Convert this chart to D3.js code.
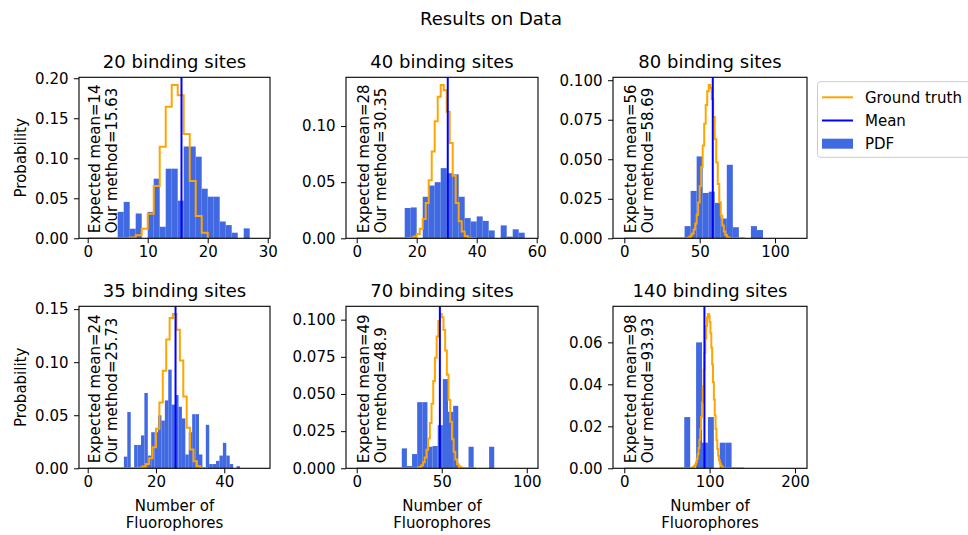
<!DOCTYPE html>
<html><head><meta charset="utf-8">
<script src="https://cdn.jsdelivr.net/npm/d3@7"></script>
<style>
body{margin:0;background:#fff;}
svg text{font-family:"DejaVu Sans",sans-serif;fill:#000;}
</style>
</head><body>
<svg id="c" width="968" height="535"></svg>
<script>
// ---------- data ----------
const sites = [20, 40, 80, 35, 70, 140];
const expectedMeans = [14, 28, 56, 24, 49, 98];
const methodMeans = [15.63, 30.35, 58.69, 25.73, 48.9, 93.93];

// PDF histogram bars (first bin edge, bin width, heights)
const pdfStart = [5, 16, 40, 10.6, 26.5, 70.3];
const pdfWidth = [1, 2, 4, 1, 3.02, 6.93];
const pdf20 = [0.033, 0.0455, 0.012, 0.031, 0, 0.033, 0.0745, 0.0144, 0.087, 0.087, 0.047, 0.1147, 0.1147, 0.102, 0.062, 0.052, 0.052, 0.021, 0.0165, 0.007, 0, 0.0124];
const pdf40 = [0.027, 0.0275, 0, 0.037, 0.047, 0.050, 0.0625, 0.058, 0.057, 0.037, 0.018, 0.015, 0.0195, 0.0155, 0.007, 0, 0.0115, 0.0015, 0.008, 0.005];
const pdf80 = [0.0077, 0.030, 0.0518, 0.0287, 0.0295, 0.0224, 0.0125, 0.0465, 0.0070, 0, 0, 0.0077, 0.0052];
const pdf35 = [0.011, 0.053, 0, 0.022, 0.022, 0.031, 0.071, 0.012, 0.034, 0.034, 0.050, 0.045, 0.064, 0.093, 0.060, 0.069, 0.058, 0.047, 0.013, 0.034, 0.051, 0.051, 0.013, 0, 0.041, 0.004, 0.004, 0.007, 0.012, 0.024, 0.012, 0.004, 0, 0.002];
const pdf70 = [0.0134, 0.0015, 0.0096, 0.0445, 0.0445, 0.0145, 0.015, 0.029, 0.060, 0.038, 0.042, 0, 0, 0.0145, 0, 0, 0, 0.0145];
const pdf140 = [0.0244, 0, 0.060, 0.0122, 0.0244, 0, 0.0122, 0.0122];

// Ground truth step values (first k shown, then one value per unit bin)
const gtStart = [6, 17, 42, 14, 36, 80];
const gt20 = [0.0002, 0.001, 0.0039, 0.012, 0.0308, 0.0654, 0.1144, 0.1643, 0.1916, 0.1789, 0.1304, 0.0716, 0.0278, 0.0068];
const gt40 = [0.0002, 0.0006, 0.0016, 0.0038, 0.0085, 0.0172, 0.0314, 0.0518, 0.0774, 0.1042, 0.1261, 0.1366, 0.1319, 0.1128, 0.0849, 0.0557, 0.0315, 0.0151, 0.0061, 0.002, 0.0005, 0.0001];
const gt80 = [0.0004, 0.0009, 0.0017, 0.0031, 0.0055, 0.0093, 0.0149, 0.0227, 0.0329, 0.0451, 0.0587, 0.0724, 0.0844, 0.0931, 0.0970, 0.0953, 0.0882, 0.0767, 0.0627, 0.0479, 0.0343, 0.0228, 0.0142, 0.0081, 0.0043, 0.0021, 0.0009, 0.0004];
const gt35 = [0.0002, 0.0005, 0.0016, 0.0041, 0.0095, 0.0199, 0.0372, 0.0620, 0.0920, 0.1214, 0.1416, 0.1454, 0.1305, 0.1015, 0.0677, 0.0381, 0.0178, 0.0067, 0.0020, 0.0004, 0.0001];
const gt70 = [0.0005, 0.0010, 0.0021, 0.0040, 0.0073, 0.0124, 0.0200, 0.0304, 0.0435, 0.0587, 0.0744, 0.0886, 0.0991, 0.1038, 0.1017, 0.0931, 0.0793, 0.0629, 0.0462, 0.0313, 0.0196, 0.0112, 0.0059, 0.0028, 0.0012, 0.0005];
const gt140 = [0.0004, 0.0007, 0.0011, 0.0018, 0.0029, 0.0045, 0.0067, 0.0097, 0.0136, 0.0186, 0.0245, 0.0314, 0.0391, 0.0471, 0.0549, 0.0620, 0.0678, 0.0718, 0.0735, 0.0728, 0.0696, 0.0643, 0.0574, 0.0494, 0.0410, 0.0328, 0.0253, 0.0187, 0.0134, 0.0092, 0.0060, 0.0038, 0.0023, 0.0013, 0.0007, 0.0004];

// axes ranges and ticks
const xDomains = [[-1.45, 30.38], [-3.57, 60.43], [-7.5, 121.2], [-2.55, 53.4], [-6.3, 106.6], [-13.2, 214.1]];
const xTicks = [[0, 10, 20, 30], [0, 20, 40, 60], [0, 50, 100], [0, 20, 40], [0, 50, 100], [0, 100, 200]];
const yTicks = [[0, 0.05, 0.10, 0.15, 0.20], [0, 0.05, 0.10], [0, 0.025, 0.05, 0.075, 0.1], [0, 0.05, 0.10, 0.15], [0, 0.025, 0.05, 0.075, 0.1], [0, 0.02, 0.04, 0.06]];
const yTickFormats = [".2f", ".2f", ".3f", ".2f", ".3f", ".2f"];
const legendLabels = ["Ground truth", "Mean", "PDF"];

const pdfs = [pdf20, pdf40, pdf80, pdf35, pdf70, pdf140];
const gts = [gt20, gt40, gt80, gt35, gt70, gt140];

// ---------- layout ----------
const colLeft = [79, 346, 613], colRight = [270, 538, 807];
const rowTop = [77.3, 306.3], rowBottom = [238.3, 468.3];
const C_BAR = "#4169e1", C_GT = "#ffa500", C_MEAN = "#0000ff";

const svg = d3.select("#c");
svg.append("text").attr("x", 491).attr("y", 25).attr("text-anchor", "middle")
  .style("font-size", "18px").text("Results on Data");

for (let i = 0; i < 6; i++) {
  const r = Math.floor(i / 3), c = i % 3;
  const L = colLeft[c], R = colRight[c], T = rowTop[r], B = rowBottom[r];
  const x = d3.scaleLinear().domain(xDomains[i]).range([L, R]);
  const gtVals = gts[i];
  const yMax = d3.max([d3.max(gtVals), d3.max(pdfs[i])]) * 1.05;
  const y = d3.scaleLinear().domain([0, yMax]).range([B, T]);
  const g = svg.append("g");
  const cid = "clip" + i;
  g.append("clipPath").attr("id", cid).append("rect")
    .attr("x", L).attr("y", T).attr("width", R - L).attr("height", B - T);
  const plot = g.append("g").attr("clip-path", `url(#${cid})`);

  // bars
  const bars = pdfs[i].map((v, k) => ({x0: pdfStart[i] + k * pdfWidth[i], x1: pdfStart[i] + (k + 1) * pdfWidth[i], v}))
    .filter(d => d.v > 0);
  plot.selectAll("rect.bar").data(bars).join("rect").attr("class", "bar")
    .attr("x", d => x(d.x0)).attr("width", d => x(d.x1) - x(d.x0))
    .attr("y", d => y(d.v)).attr("height", d => y(0) - y(d.v))
    .attr("fill", C_BAR);

  // ground truth step
  const n = sites[i];
  const pts = [[0, 0]];
  for (let k = 0; k < n; k++) {
    const idx = k - gtStart[i];
    const v = (idx >= 0 && idx < gtVals.length) ? gtVals[idx] : 0;
    pts.push([k, v]); pts.push([k + 1, v]);
  }
  pts.push([n, 0]);
  plot.append("path").attr("d", d3.line().x(d => x(d[0])).y(d => y(d[1]))(pts))
    .attr("fill", "none").attr("stroke", C_GT).attr("stroke-width", 2);

  // mean line
  plot.append("line").attr("x1", x(methodMeans[i])).attr("x2", x(methodMeans[i]))
    .attr("y1", T).attr("y2", B).attr("stroke", C_MEAN).attr("stroke-width", 2);

  // annotation
  const x0 = x(0);
  [`Expected mean=${expectedMeans[i]}`, `Our method=${methodMeans[i]}`].forEach((s, j) => {
    g.append("text").attr("transform", `translate(${x0 + 12 + j * 17},${B - 5}) rotate(-90)`)
      .style("font-size", "15px").text(s);
  });

  // axes
  const ax = g.append("g").attr("transform", `translate(0,${B})`)
    .call(d3.axisBottom(x).tickValues(xTicks[i]).tickFormat(d3.format("d")).tickSize(5).tickPadding(3));
  const ay = g.append("g").attr("transform", `translate(${L},0)`)
    .call(d3.axisLeft(y).tickValues(yTicks[i]).tickFormat(d3.format(yTickFormats[i])).tickSize(5).tickPadding(5.5));
  [ax, ay].forEach(a => {
    a.select(".domain").remove();
    a.selectAll("text").style("font-size", "15px").style("font-family", '"DejaVu Sans",sans-serif').attr("fill", "#000");
    a.selectAll("line").attr("stroke", "#000").attr("stroke-width", 1);
  });
  g.append("rect").attr("x", L).attr("y", T).attr("width", R - L).attr("height", B - T)
    .attr("fill", "none").attr("stroke", "#000").attr("stroke-width", 1.1);

  // title
  g.append("text").attr("x", (L + R) / 2).attr("y", T - 9).attr("text-anchor", "middle")
    .style("font-size", "18px").text(`${sites[i]} binding sites`);

  if (c === 0) {
    g.append("text").attr("transform", `translate(26,${(T + B) / 2}) rotate(-90)`)
      .attr("text-anchor", "middle").style("font-size", "15px").text("Probability");
  }
  if (r === 1) {
    g.append("text").attr("x", (L + R) / 2).attr("y", 511).attr("text-anchor", "middle")
      .style("font-size", "15px").text("Number of");
    g.append("text").attr("x", (L + R) / 2).attr("y", 528).attr("text-anchor", "middle")
      .style("font-size", "15px").text("Fluorophores");
  }
}

// legend
const lg = svg.append("g");
lg.append("rect").attr("x", 817.5).attr("y", 81.7).attr("width", 170).attr("height", 75.6)
  .attr("rx", 3).attr("fill", "#fff").attr("stroke", "#cccccc").attr("stroke-width", 1);
const ly = [97.3, 120.5, 143.7];
lg.append("line").attr("x1", 822).attr("x2", 853).attr("y1", ly[0]).attr("y2", ly[0]).attr("stroke", C_GT).attr("stroke-width", 2);
lg.append("line").attr("x1", 822).attr("x2", 853).attr("y1", ly[1]).attr("y2", ly[1]).attr("stroke", C_MEAN).attr("stroke-width", 2);
lg.append("rect").attr("x", 822).attr("y", ly[2] - 5).attr("width", 31).attr("height", 10).attr("fill", C_BAR);
legendLabels.forEach((s, j) => {
  lg.append("text").attr("x", 865).attr("y", ly[j] + 5.4).style("font-size", "15px").text(s);
});
</script>
</body></html>
